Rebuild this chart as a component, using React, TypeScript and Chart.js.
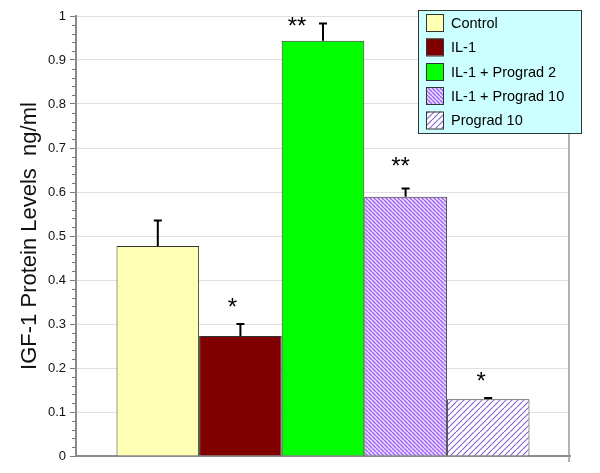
import React, { useEffect, useRef } from "react";
import { Chart, registerables } from "chart.js";

Chart.register(...registerables);

const categories = [""];
const seriesLabels = ["Control", "IL-1", "IL-1 + Prograd 2", "IL-1 + Prograd 10", "Prograd 10"];
const seriesValues = [0.477, 0.273, 0.944, 0.589, 0.129];
const seriesErrors = [0.058, 0.027, 0.039, 0.019, 0.003];
const significanceMarks = ["", "*", "**", "**", "*"];
const significanceLevels = [0, 0.352, 0.99, 0.673, 0.184];
const yMin = 0;
const yMax = 1;
const yStep = 0.1;
const yMinorStep = 0.02;
const yTitle = "IGF-1 Protein Levels  ng/ml";

const FONT = "'Liberation Sans', Arial, Helvetica, sans-serif";

function makePattern(kind: "dense" | "sparse"): CanvasPattern | string {
  const s = kind === "dense" ? 4 : 6;
  const c = document.createElement("canvas");
  c.width = s;
  c.height = s;
  const ctx = c.getContext("2d");
  if (!ctx) return "#ccc";
  ctx.fillStyle = kind === "dense" ? "#eadcff" : "#ffffff";
  ctx.fillRect(0, 0, s, s);
  ctx.strokeStyle = kind === "dense" ? "#a268f2" : "#8468d0";
  ctx.lineWidth = kind === "dense" ? 1.5 : 1.2;
  for (const k of [-s, 0, s]) {
    ctx.beginPath();
    if (kind === "dense") {
      ctx.moveTo(k, 0);
      ctx.lineTo(k + s, s);
    } else {
      ctx.moveTo(k, s);
      ctx.lineTo(k + s, 0);
    }
    ctx.stroke();
  }
  const p = ctx.createPattern(c, "repeat");
  return p || "#ccc";
}

export default function App() {
  const ref = useRef<HTMLCanvasElement | null>(null);

  useEffect(() => {
    document.body.style.margin = "0";
    const canvas = ref.current;
    if (!canvas) return;

    const fills: (string | CanvasPattern)[] = [
      "#ffffb3",
      "#800000",
      "#00ff00",
      makePattern("dense"),
      makePattern("sparse"),
    ];

    const annotationOffsets = [0, -8, -26, -5, -7];

    const overlay = {
      id: "overlay",
      beforeDatasetsDraw(chart: any) {
        const { ctx, chartArea } = chart;
        const y = chart.scales.y;
        ctx.save();
        ctx.strokeStyle = "#7a7a7a";
        ctx.lineWidth = 1;
        for (let v = yMin; v <= yMax + 1e-9; v += yMinorStep) {
          const r = Math.round(v * 100) / 100;
          if (Math.abs(r / yStep - Math.round(r / yStep)) < 1e-6) continue;
          const py = Math.round(y.getPixelForValue(r)) + 0.5;
          ctx.beginPath();
          ctx.moveTo(chartArea.left - 4, py);
          ctx.lineTo(chartArea.left, py);
          ctx.stroke();
        }
        ctx.strokeStyle = "#999";
        ctx.lineWidth = 1.5;
        ctx.beginPath();
        ctx.moveTo(chartArea.right - 1, chartArea.top);
        ctx.lineTo(chartArea.right - 1, chartArea.bottom + 6);
        ctx.stroke();
        ctx.restore();
      },
      afterDatasetsDraw(chart: any) {
        const { ctx } = chart;
        const y = chart.scales.y;
        ctx.save();
        seriesValues.forEach((val, i) => {
          const bar = chart.getDatasetMeta(i).data[0];
          if (!bar) return;
          const top = y.getPixelForValue(val);
          const errTop = y.getPixelForValue(val + seriesErrors[i]);
          ctx.strokeStyle = "#000";
          ctx.lineWidth = 2;
          ctx.beginPath();
          ctx.moveTo(bar.x, top);
          ctx.lineTo(bar.x, errTop);
          ctx.moveTo(bar.x - 4, errTop);
          ctx.lineTo(bar.x + 4, errTop);
          ctx.stroke();
          const mark = significanceMarks[i];
          if (mark) {
            ctx.fillStyle = "#000";
            ctx.font = `24px ${FONT}`;
            ctx.textAlign = "center";
            ctx.textBaseline = "alphabetic";
            const py = y.getPixelForValue(significanceLevels[i]);
            ctx.fillText(mark, bar.x + annotationOffsets[i], py + 14);
          }
        });
        ctx.restore();
      },
      afterDraw(chart: any) {
        const { ctx } = chart;
        ctx.save();
        const lx = 418.5, ly = 10.5, lw = 163, lh = 123;
        ctx.fillStyle = "#ccffff";
        ctx.fillRect(lx, ly, lw, lh);
        ctx.strokeStyle = "#333";
        ctx.lineWidth = 1;
        ctx.strokeRect(lx, ly, lw, lh);
        const rows = [22.5, 47, 71.5, 95.5, 120];
        seriesLabels.forEach((label, i) => {
          const cy = rows[i];
          ctx.fillStyle = fills[i] as any;
          ctx.fillRect(426, cy - 8.5, 17, 17);
          ctx.strokeStyle = "#333";
          ctx.strokeRect(426.5, cy - 8, 17, 17);
          ctx.fillStyle = "#000";
          ctx.font = `14.5px ${FONT}`;
          ctx.textAlign = "left";
          ctx.textBaseline = "middle";
          ctx.fillText(label, 451, cy + 1);
        });
        ctx.restore();
      },
    };

    const chart = new Chart(canvas, {
      type: "bar",
      data: {
        labels: categories,
        datasets: seriesLabels.map((label, i) => ({
          label,
          data: [seriesValues[i]],
          backgroundColor: fills[i] as any,
          borderColor: "#333",
          borderWidth: 1,
          barPercentage: 1,
          categoryPercentage: 0.836,
        })),
      },
      options: {
        animation: false,
        responsive: false,
        maintainAspectRatio: false,
        layout: { padding: { top: 16, right: 30, bottom: 0, left: 0 } },
        plugins: {
          legend: { display: false },
          tooltip: { enabled: false },
        },
        scales: {
          x: {
            type: "category",
            grid: { display: false, drawTicks: false },
            ticks: { display: false },
            border: { color: "#8a8a8a", width: 2 },
            afterFit: (s: any) => {
              s.height = 17;
            },
          },
          y: {
            min: yMin,
            max: yMax,
            ticks: {
              stepSize: yStep,
              color: "#111",
              padding: 4,
              font: { family: FONT, size: 13 },
              callback: (v: any) => String(Math.round(Number(v) * 10) / 10),
            },
            grid: { color: "#e0e0e0", tickColor: "#7a7a7a", tickLength: 6, lineWidth: 1 },
            border: { color: "#8a8a8a", width: 2 },
            title: {
              display: true,
              text: yTitle,
              color: "#111",
              padding: { top: 17, bottom: 0 },
              font: { family: FONT, size: 22 },
            },
            afterFit: (s: any) => {
              s.width = 76;
            },
          },
        },
      },
      plugins: [overlay],
    });

    return () => chart.destroy();
  }, []);

  return (
    <div style={{ width: 600, height: 473, background: "#fff" }}>
      <canvas ref={ref} width={600} height={473} style={{ display: "block" }} />
    </div>
  );
}
